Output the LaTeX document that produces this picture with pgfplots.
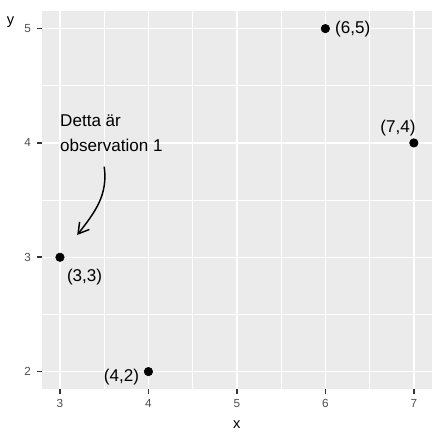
\documentclass[border=0pt]{standalone}
\usepackage{fontspec}
\setmainfont{Liberation Sans}
\usepackage{pgfplots}
\pgfplotsset{compat=1.18}
\usetikzlibrary{arrows.meta}

\definecolor{panelgrey}{HTML}{EBEBEB}
\definecolor{tickgrey}{HTML}{333333}
\definecolor{labelgrey}{HTML}{4D4D4D}

\begin{document}
\begin{tikzpicture}
  % ggplot-like canvas
  \path[use as bounding box] (-31.7pt,-40.7pt) rectangle (300.5pt,291.6pt);
  \begin{axis}[
    scale only axis,
    width=292pt, height=283pt,
    xmin=2.8, xmax=7.2, ymin=1.85, ymax=5.15,
    xtick={3,4,5,6,7}, ytick={2,3,4,5},
    minor tick num=1,
    grid=both,
    major grid style={white, line width=1.07pt},
    minor grid style={white, line width=0.53pt},
    axis background/.style={fill=panelgrey},
    axis line style={draw=none},
    tick align=outside,
    xtick pos=left, ytick pos=left,
    major tick length=4pt, minor tick length=0pt,
    major tick style={tickgrey, line width=1.2pt},
    /pgf/number format/assume math mode=true,
    tick label style={font=\fontsize{8.8}{10}\selectfont, text=labelgrey, inner sep=0pt},
    xticklabel style={font=\fontsize{8.8}{10}\selectfont, anchor=north, yshift=-3.9pt},
    yticklabel style={font=\fontsize{8.8}{10}\selectfont, anchor=east, xshift=-4.25pt},
    xlabel={x}, ylabel={y},
    label style={font=\fontsize{11}{13}\selectfont, inner sep=0pt},
    xlabel style={at={(axis description cs:0.5,0)}, anchor=north, yshift=-23.8pt},
    ylabel style={at={(axis description cs:0,1)}, rotate=-90, anchor=north east, xshift=-20.8pt, yshift=-4pt},
    clip=false,
  ]
    \addplot[only marks, mark=*, mark size=3.2pt, black]
      coordinates {(3,3) (4,2) (6,5) (7,4)};

    \begin{scope}[every node/.style={font=\fontsize{12.8}{15}\selectfont, inner sep=0pt}]
      \node[anchor=west, xshift=7.1pt] at (axis cs:6,5) {(6,5)};
      \node[anchor=east, xshift=1.5pt, yshift=11pt] at (axis cs:7,4) {(7,4)};
      \node[anchor=west, xshift=5.1pt, yshift=-14.5pt] at (axis cs:3,3) {(3,3)};
      \node[anchor=east, xshift=-6.9pt, yshift=-3.75pt] at (axis cs:4,2) {(4,2)};
      \node[anchor=base west, align=left, font=\fontsize{12.8}{18.6}\selectfont]
        at (axis cs:3,3.924) {Detta är\\observation 1};
    \end{scope}

    \draw[line width=1.1pt, -{Straight Barb[length=7.8pt, width=9.3pt]}]
      (axis cs:3.50,3.793) to[out=-82, in=52] (axis cs:3.195,3.195);
  \end{axis}
\end{tikzpicture}
\end{document}
